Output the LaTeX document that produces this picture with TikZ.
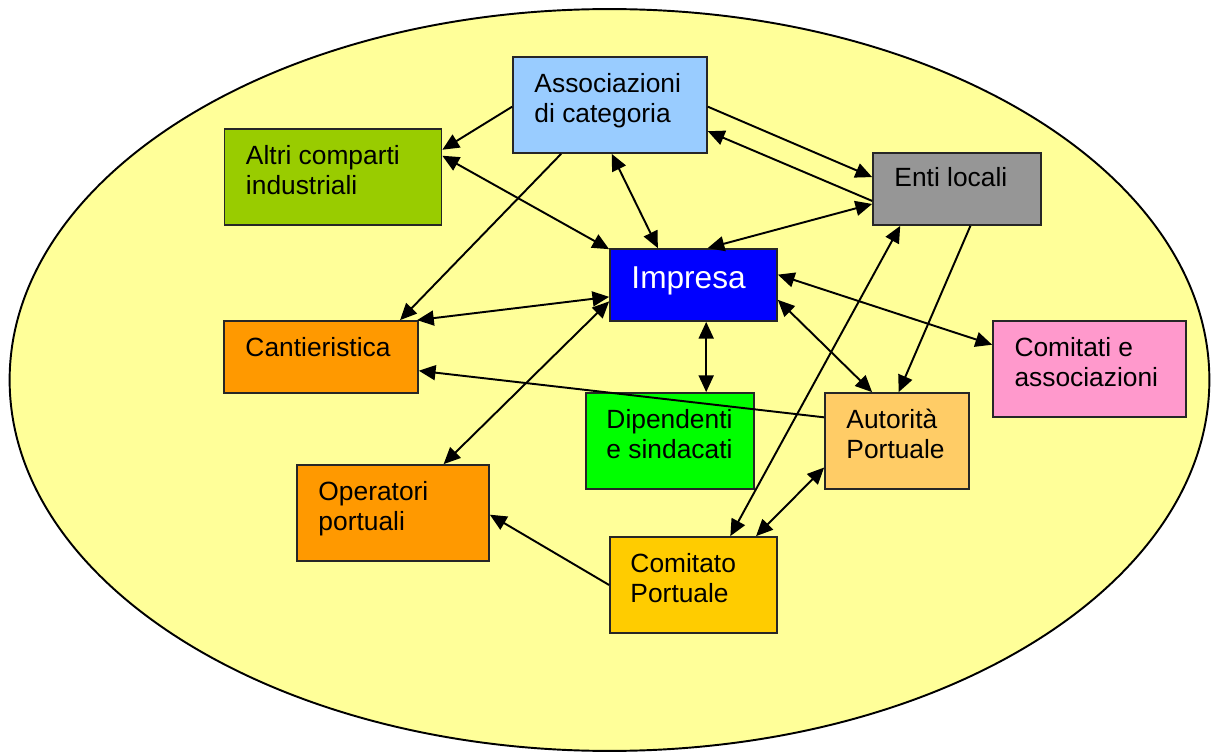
\documentclass[tikz,border=0pt]{standalone}
\usepackage{fontspec}
\setmainfont{Liberation Sans}
\usetikzlibrary{arrows.meta}

\definecolor{campo}{HTML}{FFFF99}
\definecolor{celeste}{HTML}{99CCFF}
\definecolor{oliva}{HTML}{99CC00}
\definecolor{grigio}{HTML}{969696}
\definecolor{arancio}{HTML}{FF9900}
\definecolor{rosa}{HTML}{FF99CC}
\definecolor{verde}{HTML}{00FF00}
\definecolor{pesca}{HTML}{FFCC66}
\definecolor{oro}{HTML}{FFCC00}

\tikzset{
  ente/.style={draw=black!85, line width=1pt, inner sep=0pt},
  nome/.style={anchor=north west, inner sep=0pt, align=left,
    font=\fontsize{15}{16.8}\selectfont},
  freccia/.style={line width=1.1pt, -{Triangle[length=9.5pt,width=8.5pt]}},
  doppia/.style={line width=1.1pt, {Triangle[length=9.5pt,width=8.5pt]}-{Triangle[length=9.5pt,width=8.5pt]}}
}

\begin{document}
\begin{tikzpicture}[x=0.02cm, y=-0.02cm]
        \useasboundingbox (0,0) rectangle (1218,753);

        \draw[fill=campo, line width=1.1pt] (609.5,380) ellipse [x radius=12cm, y radius=7.42cm];

        % attori
        \node[ente, fill=celeste, minimum width=3.88cm, minimum height=1.92cm] (assoc) at (610,105) {};
        \node[ente, fill=oliva, minimum width=4.34cm, minimum height=1.92cm] (altri) at (333,177) {};
        \node[ente, fill=grigio, minimum width=3.36cm, minimum height=1.44cm] (enti) at (957,189) {};
        \node[ente, fill=blue, minimum width=3.34cm, minimum height=1.44cm] (impresa) at (693.5,285) {};
        \node[ente, fill=arancio, minimum width=3.88cm, minimum height=1.44cm] (cant) at (321,357) {};
        \node[ente, fill=rosa, minimum width=3.86cm, minimum height=1.92cm] (comitati) at (1089.5,369) {};
        \node[ente, fill=verde, minimum width=3.36cm, minimum height=1.92cm] (dip) at (670,441) {};
        \node[ente, fill=pesca, minimum width=2.88cm, minimum height=1.92cm] (autorita) at (897,441) {};
        \node[ente, fill=arancio, minimum width=3.84cm, minimum height=1.92cm] (oper) at (393,513) {};
        \node[ente, fill=oro, minimum width=3.34cm, minimum height=1.92cm] (comitato) at (693.5,585) {};

        % testi
        \node[nome] (assoc-t) at ([shift={(22,17)}]assoc.north west) {Associazioni\\di categoria};
        \node[nome] (altri-t) at ([shift={(22,17)}]altri.north west) {Altri comparti\\industriali};
        \node[nome] (enti-t) at ([shift={(22,15)}]enti.north west) {Enti locali};
        \node[nome, text=white, font=\fontsize{18}{20}\selectfont] (impresa-t) at ([shift={(22,18)}]impresa.north west) {Impresa};
        \node[nome] (cant-t) at ([shift={(22,17)}]cant.north west) {Cantieristica};
        \node[nome] (comitati-t) at ([shift={(22,17)}]comitati.north west) {Comitati e\\associazioni};
        \node[nome] (dip-t) at ([shift={(21,17)}]dip.north west) {Dipendenti\\e sindacati};
        \node[nome] (autorita-t) at ([shift={(22,17)}]autorita.north west) {Autorità\\Portuale};
        \node[nome] (oper-t) at ([shift={(22,17)}]oper.north west) {Operatori\\portuali};
        \node[nome] (comitato-t) at ([shift={(21,17)}]comitato.north west) {Comitato\\Portuale};

        % relazioni
        \draw[freccia] (assoc.181) -- (altri.14);
        \draw[doppia] (altri.11) -- (impresa.157);
        \draw[freccia] (assoc.225) -- (cant.25);
        \draw[doppia] (assoc.272) -- (impresa.134);
        \draw[freccia] (assoc.359) -- (enti.172);
        \draw[freccia] (enti.188) -- (assoc.345);
        \draw[doppia] (impresa.69) -- (enti.190);
        \draw[doppia] (impresa.188) -- (cant.21);
        \draw[doppia] (impresa.191) -- (oper.44);
        \draw[doppia] (impresa.289) -- (impresa.289 |- dip.north);
        \draw[doppia] (impresa.7) -- (comitati.166);
        \draw[doppia] (impresa.350) -- (autorita.117);
        \draw[freccia] (enti.290) -- (autorita.88);
        \draw[doppia] (comitato.53) -- (enti.213);
        \draw[doppia] (autorita.200) -- (comitato.38);
        \draw[freccia] (autorita.162) -- (cant.352);
        \draw[freccia] (comitato.west) -- (oper.359);

    \end{tikzpicture}
\end{document}
